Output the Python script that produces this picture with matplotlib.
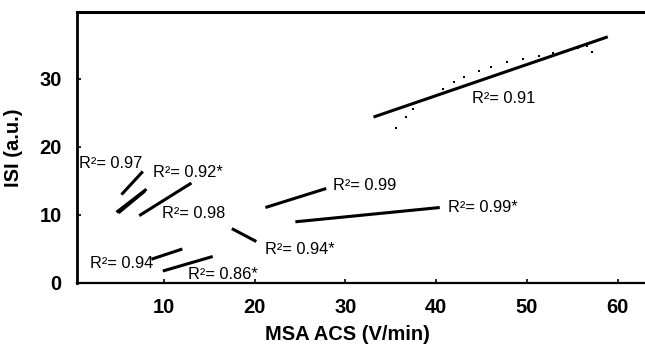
import matplotlib
matplotlib.use("Agg")
import matplotlib.pyplot as plt

# Regression line segments: start/end points (x in V/min, y in a.u.)
seg_x0 = [33.1, 21.2, 24.5, 17.5, 5.35, 4.8, 5.0, 7.3, 8.65, 9.9]
seg_y0 = [24.4, 11.1, 9.0, 8.0, 13.0, 10.4, 10.3, 9.9, 3.5, 1.76]
seg_x1 = [58.9, 27.9, 40.4, 20.2, 7.7, 8.1, 7.9, 13.05, 12.05, 15.4]
seg_y1 = [36.2, 13.9, 11.1, 6.1, 16.4, 13.8, 13.5, 14.7, 5.0, 3.9]

# Scattered raw points around the upper line
pts_x = [35.6, 36.7, 37.5, 40.8, 42.0, 43.1, 44.7, 46.0, 47.8, 49.6, 51.3, 52.9, 55.6, 56.6, 57.2]
pts_y = [22.8, 24.4, 25.6, 28.6, 29.5, 30.3, 31.2, 31.8, 32.5, 32.9, 33.4, 33.8, 34.5, 34.8, 33.9]

# R² annotations
lab_text = ["R²= 0.91", "R²= 0.99", "R²= 0.99*", "R²= 0.94*", "R²= 0.97",
            "R²= 0.92*", "R²= 0.98", "R²= 0.94", "R²= 0.86*"]
lab_x = [44.0, 28.6, 41.3, 21.2, 0.7, 8.8, 9.8, 1.9, 12.65]
lab_y = [27.1, 14.4, 11.1, 4.9, 17.5, 16.2, 10.25, 2.8, 1.2]

xticks = [10, 20, 30, 40, 50, 60]
yticks = [0, 10, 20, 30]

plt.rcParams['font.family'] = ['Liberation Sans', 'DejaVu Sans']

fig = plt.figure(figsize=(6.45, 3.47), dpi=100)
ax = fig.add_axes([77/645, 1-283/347, 1-77/645, (283-12)/347])

for x0, y0, x1, y1 in zip(seg_x0, seg_y0, seg_x1, seg_y1):
    ax.plot([x0, x1], [y0, y1], color='black', lw=2.2, solid_capstyle='butt')

ax.plot(pts_x, pts_y, 's', color='black', markersize=1.8, markeredgewidth=0)

for t, x, y in zip(lab_text, lab_x, lab_y):
    ax.text(x, y, t, ha='left', va='center', fontsize=11.8, color='black')

ax.set_xlim(0.45, 63.0)
ax.set_ylim(0, 39.85)
ax.set_xticks(xticks)
ax.set_yticks(yticks)
ax.tick_params(direction='in', length=3, width=1.2, labelsize=14.5, pad=11)
for lbl in ax.get_xticklabels() + ax.get_yticklabels():
    lbl.set_fontweight('bold')

ax.spines['right'].set_visible(False)
ax.spines['left'].set_linewidth(2.0)
ax.spines['top'].set_linewidth(2.2)
ax.spines['bottom'].set_linewidth(1.6)

ax.set_xlabel("MSA ACS (V/min)", fontsize=14.5, fontweight='bold')
ax.set_ylabel("ISI (a.u.)", fontsize=14.5, fontweight='bold')
ax.xaxis.set_label_coords((347-77)/(645-77), (283-325)/(283-12))
ax.yaxis.set_label_coords((23-77)/(645-77), (283-148)/(283-12))

fig.savefig("out.png", dpi=100)
